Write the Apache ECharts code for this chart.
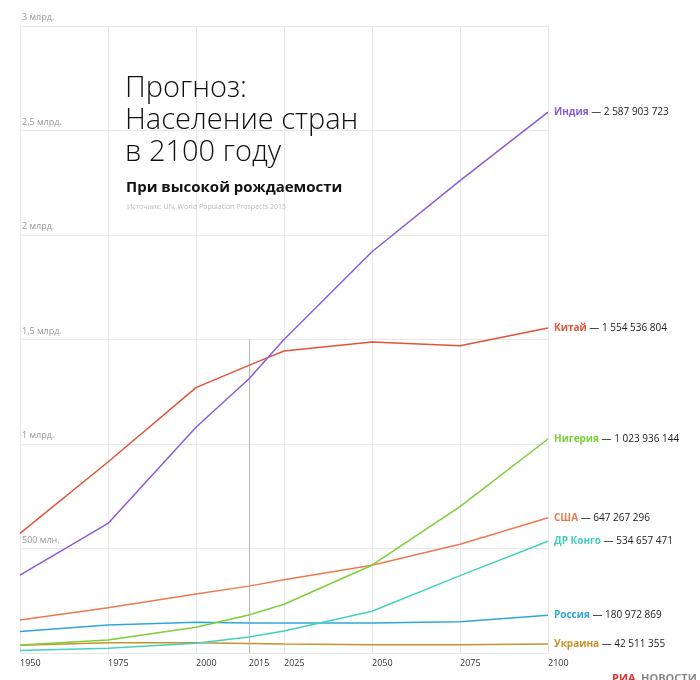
<!DOCTYPE html>
<html><head><meta charset="utf-8">
<script src="https://cdn.jsdelivr.net/npm/echarts@6/dist/echarts.min.js"></script>
<style>html,body{margin:0;padding:0;background:#fff}#c{width:700px;height:680px}</style>
</head><body><div id="c"></div>
<script>
const years = [1950, 1975, 2000, 2015, 2025, 2050, 2075, 2100];
const xTickLabels = [1950, 1975, 2000, 2015, 2025, 2050, 2075, 2100];
const yTickLabels = ['', '500 млн.', '1 млрд.', '1,5 млрд.', '2 млрд.', '2,5 млрд.', '3 млрд.'];
const countryNames = ['Индия', 'Китай', 'Нигерия', 'США', 'ДР Конго', 'Россия', 'Украина'];
const endValues = ['2 587 903 723', '1 554 536 804', '1 023 936 144', '647 267 296', '534 657 471', '180 972 869', '42 511 355'];
// population, billions
const india   = [0.373, 0.620, 1.080, 1.311, 1.500, 1.920, 2.260, 2.588];
const china   = [0.572, 0.914, 1.270, 1.376, 1.445, 1.488, 1.470, 1.555];
const nigeria = [0.038, 0.062, 0.123, 0.182, 0.233, 0.420, 0.700, 1.024];
const usa     = [0.158, 0.216, 0.282, 0.320, 0.350, 0.420, 0.520, 0.647];
const congo   = [0.012, 0.023, 0.047, 0.077, 0.105, 0.200, 0.370, 0.535];
const russia  = [0.103, 0.134, 0.147, 0.143, 0.143, 0.143, 0.150, 0.181];
const ukraine = [0.037, 0.049, 0.049, 0.045, 0.043, 0.040, 0.040, 0.0425];
const seriesData = [india, china, nigeria, usa, congo, russia, ukraine];
const lineColors = ['#8a5cd6', '#e0553a', '#7ccf3a', '#ec7a4e', '#45d0bd', '#30a6d6', '#c99228'];

const FONT = '"Open Sans", "Noto Sans", sans-serif';
const chart = echarts.init(document.getElementById('c'));
const series = seriesData.map((d, i) => ({
  name: countryNames[i],
  type: 'line',
  data: years.map((y, k) => [y, d[k]]),
  showSymbol: false,
  symbol: 'none',
  lineStyle: { width: 1.5, color: lineColors[i] },
  itemStyle: { color: lineColors[i] },
  z: 3 + (7 - i),
  endLabel: {
    show: true,
    distance: 6,
    formatter: () => '{n|' + countryNames[i] + '}{v| — ' + endValues[i] + '}',
    rich: {
      n: { fontFamily: FONT, fontWeight: 'bold', fontSize: 10, color: lineColors[i] },
      v: { fontFamily: FONT, fontSize: 10, color: '#222' }
    }
  },
  markLine: i === 0 ? {
    silent: true, symbol: 'none', label: { show: false },
    lineStyle: { color: '#b5b5b5', width: 1, type: 'solid' },
    data: [[{ coord: [2015, 0] }, { coord: [2015, 1.5] }]]
  } : undefined
}));

chart.setOption({
  animation: false,
  backgroundColor: '#fff',
  textStyle: { fontFamily: FONT },
  title: [
    { text: 'Прогноз:\nНаселение стран\nв 2100 году', left: 120, top: 68,
      textStyle: { fontFamily: FONT, fontWeight: 300, fontSize: 29, lineHeight: 32, color: '#111' } },
    { text: 'При высокой рождаемости', left: 121, top: 175,
      textStyle: { fontFamily: FONT, fontWeight: 'bold', fontSize: 15, color: '#111' } },
    { text: 'Источник: UN, World Population Prospects 2015', left: 122, top: 198,
      textStyle: { fontFamily: FONT, fontWeight: 'normal', fontSize: 7, color: '#bbb' } }
  ],
  grid: { left: 20, right: 152, top: 26, bottom: 27, containLabel: false },
  xAxis: {
    type: 'value', min: 1950, max: 2100, interval: 25,
    axisLine: { show: false }, axisTick: { show: false },
    splitLine: { show: true, lineStyle: { color: '#e8e8e8', width: 1 } },
    axisLabel: {
      customValues: xTickLabels, formatter: v => String(v),
      align: 'left', margin: 6, fontSize: 9, color: '#333', fontFamily: FONT
    }
  },
  yAxis: {
    type: 'value', min: 0, max: 3, interval: 0.5,
    axisLine: { show: false }, axisTick: { show: false },
    splitLine: { show: true, lineStyle: { color: '#e8e8e8', width: 1 } },
    axisLabel: {
      inside: true, margin: 2, verticalAlign: 'bottom', padding: [0, 0, 4, 0],
      fontSize: 9, color: '#999', fontFamily: FONT,
      formatter: v => yTickLabels[Math.round(v / 0.5)] || ''
    }
  },
  graphic: [
    { type: 'text', left: 612, top: 673, style: { text: 'РИА', fill: '#e03030', font: 'bold 11px ' + FONT } },
    { type: 'text', left: 641, top: 673, style: { text: 'НОВОСТИ', fill: '#888', font: 'bold 11px ' + FONT } }
  ],
  series: series
});
</script></body></html>
